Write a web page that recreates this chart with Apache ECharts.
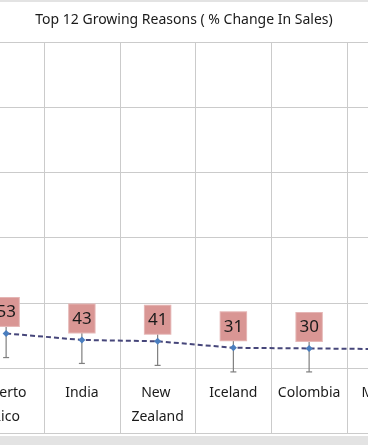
<!DOCTYPE html>
<html>
<head>
<meta charset="utf-8">
<script src="https://cdn.jsdelivr.net/npm/echarts@6/dist/echarts.min.js"></script>
<style>
html, body { margin: 0; padding: 0; width: 368px; height: 445px; background: #e3e3e3; overflow: hidden; }
#chart { position: absolute; left: 0; top: 2px; width: 368px; height: 434px; background: #ffffff; }
</style>
</head>
<body>
<div id="chart"></div>
<script>
const titleText = 'Top 12 Growing Reasons ( % Change In Sales)';
const categories = ['Puerto Rico', 'India', 'New Zealand', 'Iceland', 'Colombia', 'Mexico'];
const values = [53, 43, 41, 31, 30, 29];
const errors = [37, 36, 37, 37, 36, 36];
const yMin = 0, yMax = 500, yInterval = 100;

const chart = echarts.init(document.getElementById('chart'), null, { renderer: 'canvas' });
const FONT = 'Noto Sans';
const GRID_COLOR = '#cbcbcb';

const errData = values.map((v, i) => [i, v, errors[i]]);

chart.setOption({
  animation: false,
  backgroundColor: '#ffffff',
  title: {
    text: titleText,
    left: 'center',
    top: 6,
    textStyle: { fontFamily: FONT, fontSize: 14, fontWeight: 'normal', color: '#1a1a1a' }
  },
  grid: [
    { left: -31.75, right: -54.75, top: 40, bottom: 68, outerBoundsMode: 'none', containLabel: false },
    { left: -31.75, right: -54.75, top: 366, bottom: 3, outerBoundsMode: 'none', containLabel: false }
  ],
  xAxis: [
    {
      type: 'category',
      gridIndex: 0,
      data: categories,
      boundaryGap: true,
      axisLine: { show: true, lineStyle: { color: GRID_COLOR, width: 1 } },
      axisTick: { show: false },
      splitLine: { show: true, interval: 0, lineStyle: { color: GRID_COLOR, width: 1 } },
      axisLabel: {
        show: true,
        interval: 0,
        margin: 13,
        width: 70,
        overflow: 'break',
        lineHeight: 24,
        fontFamily: FONT,
        fontSize: 14,
        color: '#1a1a1a',
        hideOverlap: false
      }
    },
    {
      type: 'category',
      gridIndex: 1,
      data: categories,
      boundaryGap: true,
      axisLine: { show: true, lineStyle: { color: GRID_COLOR, width: 1 } },
      axisTick: { show: false },
      axisLabel: { show: false },
      splitLine: { show: true, interval: 0, lineStyle: { color: GRID_COLOR, width: 1 } }
    }
  ],
  yAxis: [
    {
      type: 'value',
      gridIndex: 0,
      min: yMin,
      max: yMax,
      interval: yInterval,
      axisLine: { show: false },
      axisTick: { show: false },
      axisLabel: { show: false },
      splitLine: { show: true, lineStyle: { color: GRID_COLOR, width: 1 } }
    },
    {
      type: 'value',
      gridIndex: 1,
      min: 0,
      max: 1,
      show: false
    }
  ],
  series: [
    {
      type: 'custom',
      xAxisIndex: 0,
      yAxisIndex: 0,
      z: 1,
      clip: false,
      data: errData,
      renderItem: function (params, api) {
        const i = api.value(0), v = api.value(1), e = api.value(2);
        const top = api.coord([i, v + e]);
        const bot = api.coord([i, v - e]);
        const cap = 3;
        return {
          type: 'group',
          children: [
            { type: 'line', shape: { x1: top[0], y1: top[1], x2: bot[0], y2: bot[1] }, style: { stroke: '#7f7f7f', lineWidth: 1.2 } },
            { type: 'line', shape: { x1: bot[0] - cap, y1: bot[1], x2: bot[0] + cap, y2: bot[1] }, style: { stroke: '#7f7f7f', lineWidth: 1.2 } },
            { type: 'line', shape: { x1: top[0] - cap, y1: top[1], x2: top[0] + cap, y2: top[1] }, style: { stroke: '#7f7f7f', lineWidth: 1.2 } }
          ]
        };
      }
    },
    {
      type: 'line',
      xAxisIndex: 0,
      yAxisIndex: 0,
      z: 3,
      data: values,
      symbol: 'diamond',
      symbolSize: 7,
      itemStyle: { color: '#4a7ebf' },
      lineStyle: { color: '#46467a', width: 2, type: [5, 3] },
      label: {
        show: true,
        position: 'top',
        distance: 4,
        fontFamily: FONT,
        fontSize: 17,
        lineHeight: 21,
        color: '#1a1a1a',
        backgroundColor: '#d99694',
        borderColor: '#e6b8b7',
        borderWidth: 1,
        padding: [4, 3, 3, 3]
      }
    }
  ]
});
</script>
</body>
</html>
